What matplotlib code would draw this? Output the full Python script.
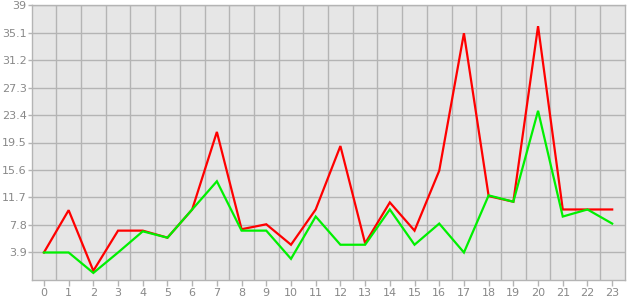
import matplotlib
matplotlib.use("Agg")
import matplotlib.pyplot as plt
import numpy as np

hours = list(range(24))
red_values = [3.9, 9.9, 1.3, 7.0, 7.0, 6.0, 10.0, 21.0, 7.2, 7.9, 5.0, 10.0, 19.0, 5.2,
              11.0, 7.0, 15.5, 35.0, 11.9, 11.1, 36.0, 10.0, 10.0, 10.0]
green_values = [3.9, 3.9, 1.0, 3.9, 6.9, 6.0, 10.0, 14.0, 7.0, 7.0, 3.0, 9.0, 5.0, 5.0,
                10.0, 5.0, 8.0, 3.9, 12.0, 11.1, 24.0, 9.0, 10.0, 8.0]
y_ticks = [3.9, 7.8, 11.7, 15.6, 19.5, 23.4, 27.3, 31.2, 35.1, 39]
y_tick_labels = ["3.9", "7.8", "11.7", "15.6", "19.5", "23.4", "27.3", "31.2", "35.1", "39"]

fig = plt.figure(figsize=(6.3, 3.0), dpi=100)
ax = fig.add_axes([0.0513, 0.0667, 0.9412, 0.9166])
ax.set_facecolor("#e6e6e6")

ax.plot(hours, red_values, color="#ff0000", lw=1.6, zorder=3, solid_joinstyle="miter")
ax.plot(hours, green_values, color="#00f000", lw=1.6, zorder=4, solid_joinstyle="miter")

ax.set_xlim(-0.47, 23.53)
ax.set_ylim(0, 39)
ax.set_xticks(hours)
ax.set_xticklabels([str(h) for h in hours])
ax.set_yticks(y_ticks)
ax.set_yticklabels(y_tick_labels)

ax.grid(False)
for v in np.arange(0.5, 23.5, 1.0):
    ax.axvline(v, color="#b4b4b4", lw=1.0, zorder=1)
for t in y_ticks:
    ax.axhline(t, color="#b4b4b4", lw=1.0, zorder=1)

for s in ax.spines.values():
    s.set_color("#b4b4b4")
    s.set_linewidth(1.0)

ax.tick_params(axis="x", which="major", colors="#b4b4b4", length=4, width=1.0,
               labelcolor="#888888", labelsize=8, pad=2)
ax.tick_params(axis="y", which="major", colors="#b4b4b4", length=3, width=1.0,
               labelcolor="#888888", labelsize=8, pad=1)
for lbl in ax.get_xticklabels() + ax.get_yticklabels():
    lbl.set_family("DejaVu Sans")

fig.savefig("out.png", dpi=100)
